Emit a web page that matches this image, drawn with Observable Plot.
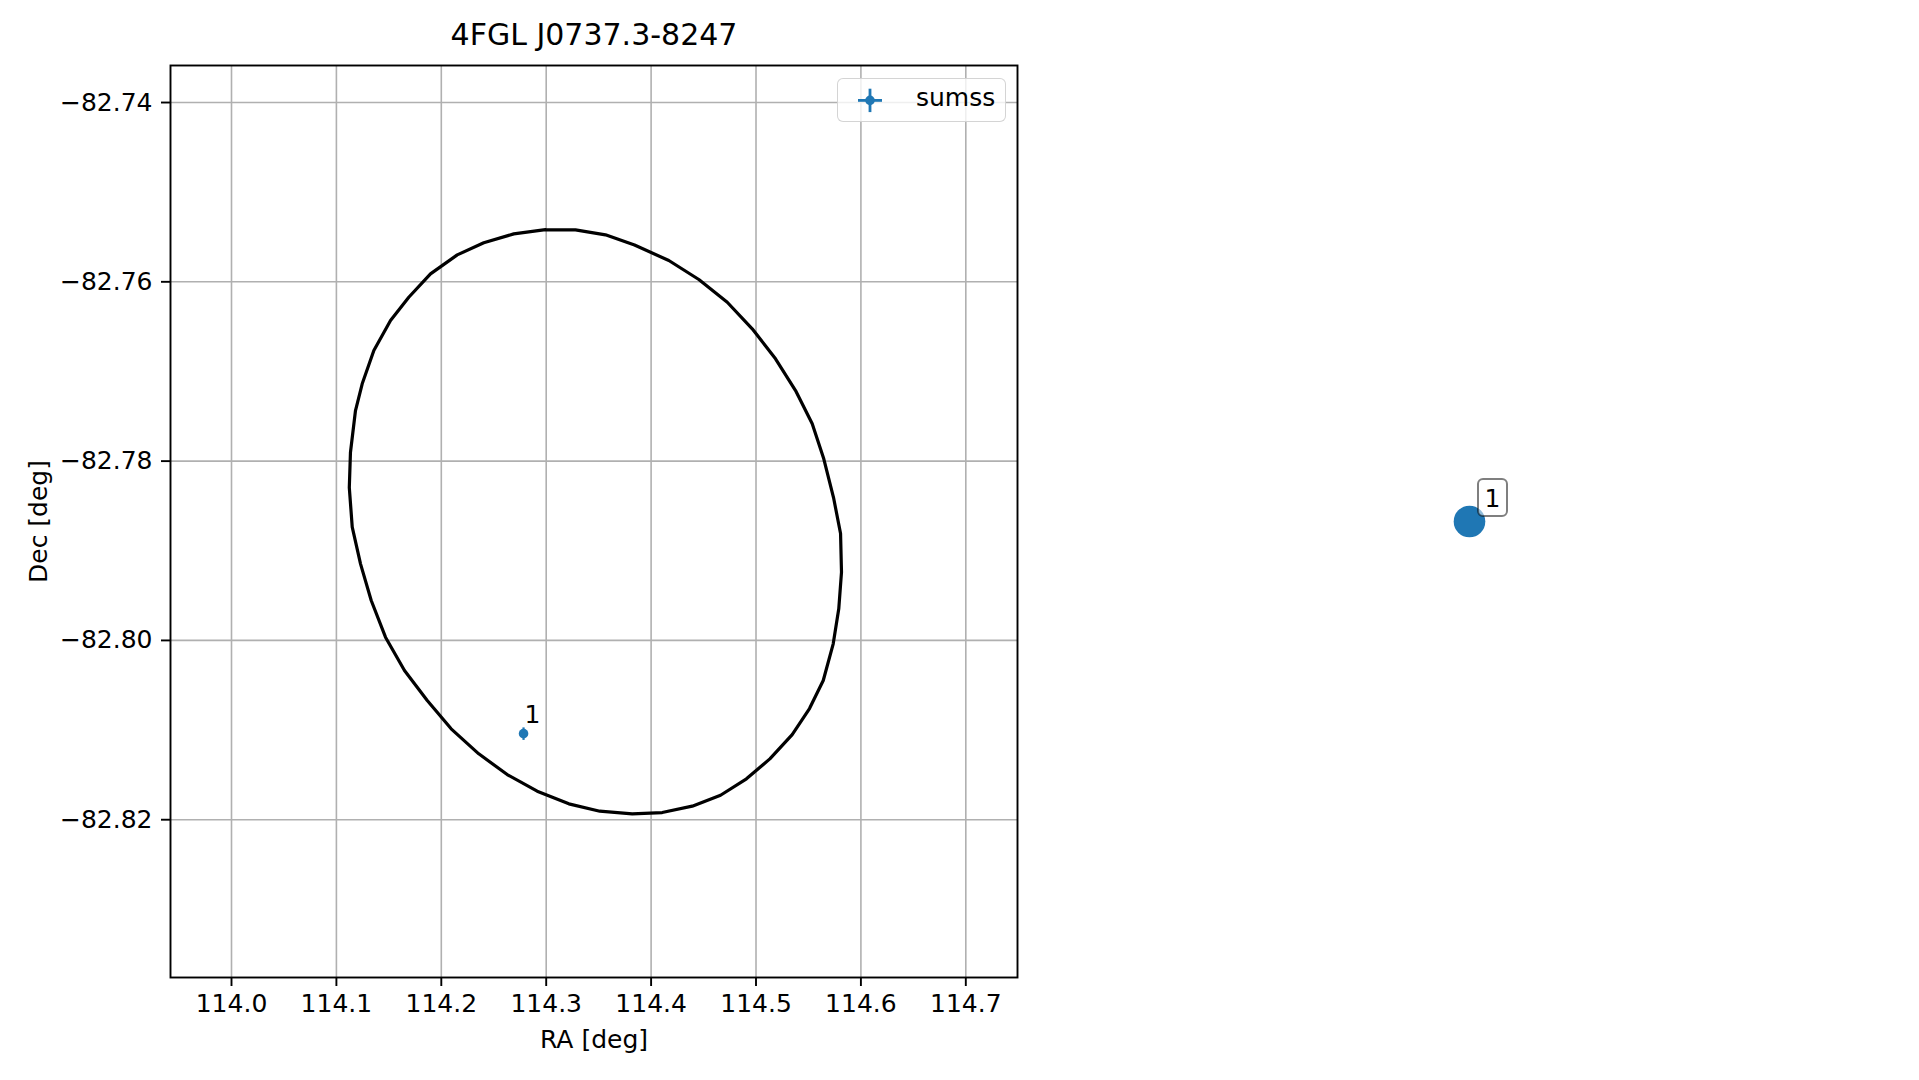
<!DOCTYPE html>
<html>
<head>
<meta charset="utf-8">
<script src="https://cdn.jsdelivr.net/npm/d3@7"></script>
<script src="https://cdn.jsdelivr.net/npm/@observablehq/plot@0.6"></script>
<style>
  html, body { margin: 0; padding: 0; background: #ffffff; }
  #root { position: relative; width: 1919px; height: 1080px; background: #ffffff; font-family: "DejaVu Sans", sans-serif; overflow: hidden; }
  #root > svg { position: absolute; top: 0; }
  #legend { position: absolute; left: 837px; top: 78px; width: 169px; height: 44px; box-sizing: border-box;
            border: 1.7px solid rgba(204,204,204,0.85); border-radius: 6px; background: rgba(255,255,255,0.8); }
  #legend svg { position: absolute; left: -1.7px; top: -1.7px; overflow: visible; }
</style>
</head>
<body>
<div id="root"></div>
<script>
// ---- data ----
const titleText = "4FGL J0737.3-8247";
const xLabel = "RA [deg]";
const yLabel = "Dec [deg]";
const xTicks = [114.0, 114.1, 114.2, 114.3, 114.4, 114.5, 114.6, 114.7];
const yTicks = [-82.74, -82.76, -82.78, -82.80, -82.82];

// 95% error ellipse outline (RA, Dec)
const ellipseRA = [114.2993, 114.3279, 114.3565, 114.3842, 114.4169, 114.4455, 114.4726, 114.4964, 114.5186, 114.5377,
  114.5536, 114.5646, 114.5739, 114.5806, 114.5815, 114.5789, 114.5736, 114.5641, 114.5510, 114.5345,
  114.5132, 114.4909, 114.4662, 114.4392, 114.4106, 114.3820, 114.3511, 114.3216, 114.2914, 114.2628,
  114.2357, 114.2094, 114.1866, 114.1649, 114.1468, 114.1332, 114.1230, 114.1151, 114.1123, 114.1134,
  114.1182, 114.1246, 114.1357, 114.1516, 114.1690, 114.1897, 114.2152, 114.2405, 114.2691];
const ellipseDec = [-82.75417, -82.75420, -82.75476, -82.75590, -82.75762, -82.75974, -82.76228, -82.76524, -82.76859, -82.77213,
  -82.77584, -82.77974, -82.78406, -82.78808, -82.79239, -82.79648, -82.80038, -82.80447, -82.80760, -82.81050,
  -82.81321, -82.81544, -82.81727, -82.81849, -82.81920, -82.81934, -82.81905, -82.81823, -82.81682, -82.81496,
  -82.81265, -82.80986, -82.80670, -82.80336, -82.79964, -82.79555, -82.79146, -82.78737, -82.78295, -82.77904,
  -82.77436, -82.77138, -82.76766, -82.76432, -82.76172, -82.75911, -82.75699, -82.75565, -82.75465];

// SUMSS counterpart(s)
const srcLabels = ["1"];
const srcRA = [114.2784];
const srcDec = [-82.8104];
const srcRAErr = [0.004];
const srcDecErr = [0.0007];
const legendName = "sumss";

// right-hand panel marker
const panelX = [0];
const panelY = [0];
const panelLabels = ["1"];

// ---- build tables ----
const ellipse = ellipseRA.map((ra, i) => ({ra, dec: ellipseDec[i]}));
ellipse.push(ellipse[0]);
const sources = srcLabels.map((l, i) => ({label: l, ra: srcRA[i], dec: srcDec[i], era: srcRAErr[i], edec: srcDecErr[i]}));
const panel = panelLabels.map((l, i) => ({label: l, x: panelX[i], y: panelY[i]}));

const blue = "#1f77b4";
const FS = 25;

const main = Plot.plot({
  width: 1040, height: 1080,
  marginLeft: 170, marginRight: 23, marginTop: 65, marginBottom: 103,
  style: {fontFamily: "DejaVu Sans", fontSize: FS + "px", background: "transparent", color: "black", overflow: "visible"},
  x: {domain: [113.94185, 114.74928]},
  y: {domain: [-82.83760, -82.73587]},
  marks: [
    Plot.gridX({ticks: xTicks, stroke: "#b0b0b0", strokeOpacity: 1, strokeWidth: 1.6}),
    Plot.gridY({ticks: yTicks, stroke: "#b0b0b0", strokeOpacity: 1, strokeWidth: 1.6}),
    Plot.axisX({ticks: xTicks, tickFormat: d3.format(".1f"), tickSize: 9, tickPadding: 8, label: null, stroke: "black", strokeWidth: 1.9}),
    Plot.axisY({ticks: yTicks, tickFormat: d3.format(".2f"), tickSize: 9, tickPadding: 9, label: null, stroke: "black", strokeWidth: 1.9}),
    Plot.line(ellipse, {x: "ra", y: "dec", stroke: "black", strokeWidth: 3.2, strokeLinejoin: "round"}),
    Plot.link(sources, {x1: d => d.ra - d.era, x2: d => d.ra + d.era, y1: "dec", y2: "dec", stroke: blue, strokeWidth: 2.2}),
    Plot.link(sources, {x1: "ra", x2: "ra", y1: d => d.dec - d.edec, y2: d => d.dec + d.edec, stroke: blue, strokeWidth: 2.2}),
    Plot.dot(sources, {x: "ra", y: "dec", r: 4.8, fill: blue, stroke: "none"}),
    Plot.text(sources, {x: "ra", y: "dec", text: "label", textAnchor: "start", lineAnchor: "bottom", dx: 1, dy: -11, fontSize: FS, fill: "black"}),
    Plot.frame({stroke: "black", strokeWidth: 1.9}),
    Plot.text([titleText], {text: d => d, frameAnchor: "top", textAnchor: "middle", lineAnchor: "bottom", dy: -20.7, fontSize: 30, fill: "black"}),
    Plot.text([xLabel], {text: d => d, frameAnchor: "bottom", textAnchor: "middle", lineAnchor: "bottom", dy: 70, fontSize: FS, fill: "black"}),
    Plot.text([yLabel], {text: d => d, frameAnchor: "left", textAnchor: "middle", lineAnchor: "bottom", rotate: -90, dx: -124, fontSize: FS, fill: "black"})
  ]
});
main.style.left = "0px";

const right = Plot.plot({
  width: 558, height: 1080,
  marginLeft: 0, marginRight: 0, marginTop: 65, marginBottom: 103,
  style: {fontFamily: "DejaVu Sans", fontSize: FS + "px", background: "transparent", color: "black", overflow: "visible"},
  x: {domain: [-1, 1], axis: null},
  y: {domain: [-1, 1], axis: null},
  marks: [
    Plot.dot(panel, {x: "x", y: "y", r: 15.8, fill: blue, stroke: "none"}),
    Plot.text(panel, {x: "x", y: "y", text: "label", textAnchor: "middle", lineAnchor: "middle", dx: 23, dy: -22.5, fontSize: FS, fill: "black"})
  ]
});
right.style.left = "1190px";

const root = document.getElementById("root");
root.appendChild(main);
root.appendChild(right);

// rounded label box behind the right-panel annotation
right.querySelectorAll("text").forEach(txt => {
  const bb = txt.getBBox();
  const w = 29, h = 37;
  const rect = document.createElementNS("http://www.w3.org/2000/svg", "rect");
  rect.setAttribute("x", bb.x + bb.width / 2 - w / 2);
  rect.setAttribute("y", bb.y + bb.height / 2 - h / 2 - 1);
  rect.setAttribute("width", w);
  rect.setAttribute("height", h);
  rect.setAttribute("rx", 5);
  rect.setAttribute("fill", "white");
  rect.setAttribute("fill-opacity", 0.5);
  rect.setAttribute("stroke", "black");
  rect.setAttribute("stroke-opacity", 0.5);
  rect.setAttribute("stroke-width", 2);
  const t = txt.getAttribute("transform");
  if (t) rect.setAttribute("transform", t);
  txt.parentNode.insertBefore(rect, txt);
});

// legend
const legend = document.createElement("div");
legend.id = "legend";
legend.innerHTML = `<svg width="169" height="44">
  <line x1="22" x2="46" y1="23.4" y2="23.4" stroke="${blue}" stroke-width="2.8"/>
  <line x1="34" x2="34" y1="11.7" y2="35.1" stroke="${blue}" stroke-width="2.8"/>
  <circle cx="34" cy="23.4" r="4.8" fill="${blue}"/>
  <text x="80" y="29.4" font-family="DejaVu Sans" font-size="${FS}" fill="black">${legendName}</text>
</svg>`;
root.appendChild(legend);
</script>
</body>
</html>
